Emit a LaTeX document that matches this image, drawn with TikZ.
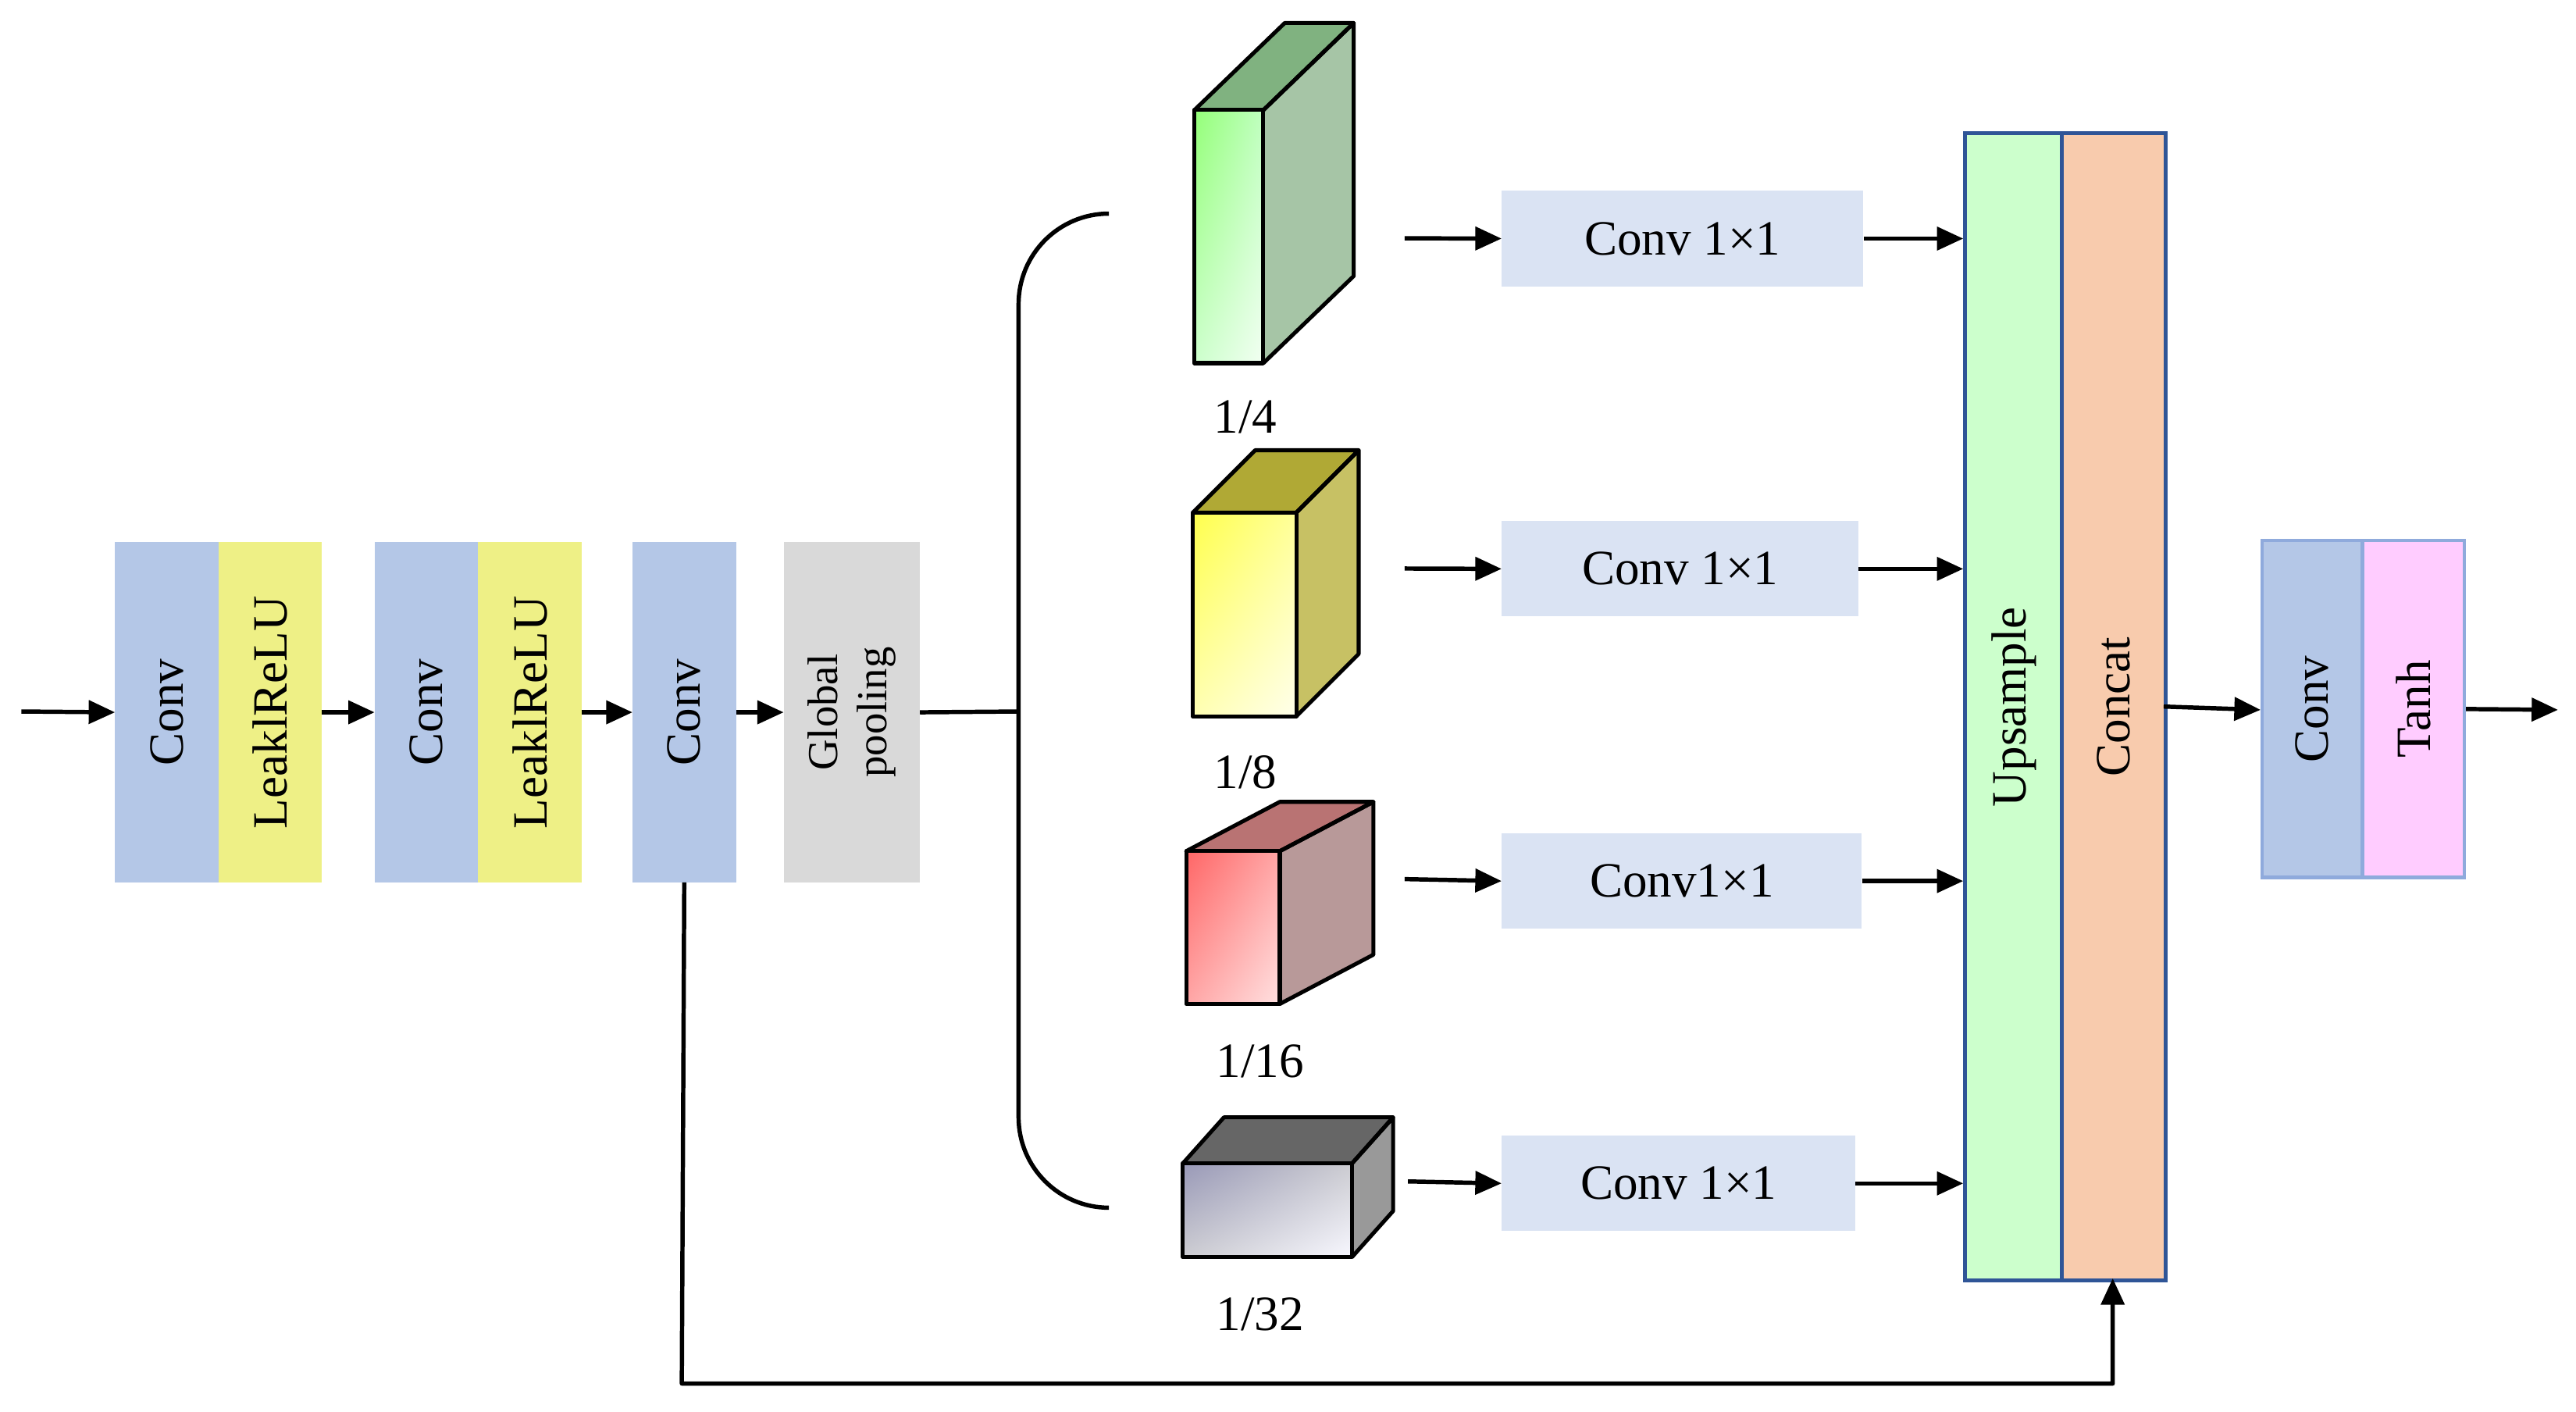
\documentclass[tikz,border=0pt]{standalone}
\usepackage{fontspec}
\setmainfont{Liberation Serif}
\usetikzlibrary{arrows.meta,shadings}
\begin{document}
\begin{tikzpicture}[x=1pt,y=-1pt,
  ar/.style={line width=2.6pt,-{Triangle[length=16pt,width=14pt]}},
  blk/.style={draw=#1,line width=2pt,minimum width=61pt,minimum height=205pt,inner sep=0pt,anchor=north west},
  rt/.style={rotate=90,font=\fontsize{30}{34}\selectfont},
  cb/.style={fill=cbox,minimum width=218pt,minimum height=58pt,anchor=north west,inner sep=0pt,font=\fontsize{30}{34}\selectfont},
  lab/.style={font=\fontsize{30}{34}\selectfont},
  edge/.style={line width=2.6pt,line join=round}]
\definecolor{convc}{HTML}{B4C7E7}
\definecolor{reluc}{HTML}{EEF086}
\definecolor{grayc}{HTML}{D9D9D9}
\definecolor{cbox}{HTML}{DAE3F3}
\definecolor{upc}{HTML}{CCFFCC}
\definecolor{catc}{HTML}{F8CBAD}
\definecolor{tanhc}{HTML}{FFCCFF}
\definecolor{bordc}{HTML}{2F5597}
\definecolor{bordl}{HTML}{8FAADC}
\useasboundingbox (0,0) rectangle (1568,859);
% left chain
\coordinate (in) at (13,433);
\node[blk=convc,fill=convc] (c1) at (70,330) {}; \node[rt] at (c1) {Conv};
\node[blk=reluc,fill=reluc] (r1) at (133,330) {}; \node[rt] at (r1) {LeaklReLU};
\node[blk=convc,fill=convc] (c2) at (228,330) {}; \node[rt] at (c2) {Conv};
\node[blk=reluc,fill=reluc] (r2) at (291,330) {}; \node[rt] at (r2) {LeaklReLU};
\node[blk=convc,fill=convc] (c3) at (385,330) {}; \node[rt] at (c3) {Conv};
\node[blk=grayc,fill=grayc,minimum width=81pt] (gp) at (477,330) {};
\node[rt,align=center,font=\fontsize{26}{30}\selectfont] at (gp) {Global\\pooling};
\draw[ar] (in) -- (c1.west);
\draw[ar] (r1.east) -- (c2.west);
\draw[ar] (r2.east) -- (c3.west);
\draw[ar] (c3.east) -- (gp.west);
% brace
\coordinate (bt) at (675,130); \coordinate (bb) at (675,735);
\draw[edge] (gp.east) -- (620,433);
\draw[edge,rounded corners=55pt] (bt) -- (620,130) -- (620,735) -- (bb);
% cubes: x, top y of front, w, h, dx, dy
\newcommand{\mycube}[9]{%
  \fill[#8] (#1+#5,#2-#6) -- (#1+#3+#5,#2-#6) -- (#1+#3+#5,#2+#4-#6) -- (#1+#3,#2+#4) -- (#1+#3,#2) -- cycle;
  \draw[line width=2.4pt,line join=round,fill=#9] (#1,#2) -- (#1+#5,#2-#6) -- (#1+#3+#5,#2-#6) -- (#1+#3,#2) -- cycle;
  \draw[line width=2.4pt,line join=round] (#1+#3,#2) -- (#1+#3+#5,#2-#6) -- (#1+#3+#5,#2+#4-#6) -- (#1+#3,#2+#4);
  \shade[#7] (#1,#2) rectangle (#1+#3,#2+#4);
  \draw[line width=2.4pt,line join=round] (#1,#2) rectangle (#1+#3,#2+#4);
}
\mycube{727}{67}{42}{154}{55}{53}{upper left=green!45!white!85!lime,lower right=green!5!white,upper right=green!25!white,lower left=green!20!white}{green!35!black!35!white}{green!40!black!50!white}
\mycube{726}{312}{63}{124}{38}{38}{upper left=yellow!70!white,lower right=yellow!8!white,upper right=yellow!40!white,lower left=yellow!30!white}{olive!50!white}{olive!70!white}
\mycube{722}{518}{57}{93}{57}{30}{upper left=red!60!white,lower right=red!12!white,upper right=red!35!white,lower left=red!35!white}{red!30!black!40!white}{red!50!black!55!white}
\mycube{720}{708}{103}{57}{25}{28}{upper left=blue!30!black!40!white,lower right=blue!3!white,upper right=blue!10!black!20!white,lower left=blue!10!black!20!white}{black!40}{black!60}
\node[lab] at (758,254) {1/4};
\node[lab] at (758,470) {1/8};
\node[lab] at (767,646) {1/16};
\node[lab] at (767,800) {1/32};
\coordinate (q1) at (855,145); \coordinate (q2) at (855,346);
\coordinate (q3) at (855,535); \coordinate (q4) at (857,719);
\node[cb,minimum width=220pt] (k1) at (914,116) {Conv 1×1};
\node[cb,minimum width=217pt] (k2) at (914,317) {Conv 1×1};
\node[cb,minimum width=219pt] (k3) at (914,507) {Conv1×1};
\node[cb,minimum width=215pt] (k4) at (914,691) {Conv 1×1};
% upsample / concat
\node[draw=bordc,line width=2.4pt,fill=upc,minimum width=59pt,minimum height=698pt,anchor=north west,inner sep=0pt] (up) at (1195,80) {};
\node[rt] at (up) {Upsample};
\node[draw=bordc,line width=2.4pt,fill=catc,minimum width=63pt,minimum height=698pt,anchor=north west,inner sep=0pt] (cat) at (1254,80) {};
\node[rt] at (cat) {Concat};
\foreach \i in {1,2,3,4}{
  \draw[ar] (q\i) -- (k\i.west);
  \draw[ar] (k\i.east) -- (k\i.east -| up.west);
}
% output
\node[blk=bordl,fill=convc] (c4) at (1376,328) {}; \node[rt] at (c4) {Conv};
\node[blk=bordl,fill=tanhc,minimum width=62pt] (th) at (1437,328) {}; \node[rt] at (th) {Tanh};
\coordinate (out) at (1557,432);
\draw[ar] (1317,430) -- (1376,432);
\draw[ar] (th.east) -- (out);
% skip
\draw[ar,line join=round] (c3.south) -- (415,842) -- (1286,842) -- (1286,778);
\end{tikzpicture}
\end{document}
